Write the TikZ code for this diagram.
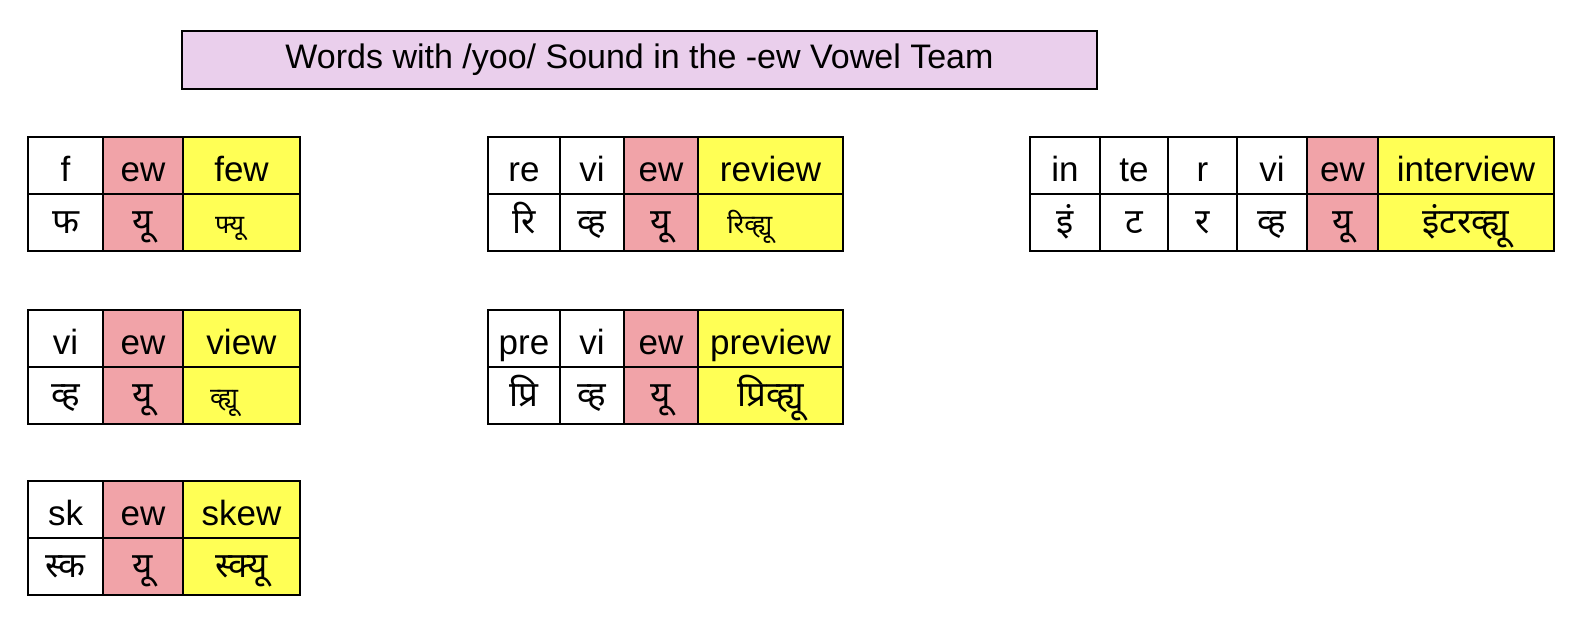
\documentclass[tikz,border=0pt]{standalone}
\usepackage{fontspec}
\setmainfont{Liberation Sans}
\newfontfamily\deva[Script=Devanagari]{Noto Sans}
\usepackage{tikz}
\usetikzlibrary{positioning}
\definecolor{ewpink}{RGB}{241,163,168}
\definecolor{wordyellow}{RGB}{255,255,85}
\definecolor{titlelilac}{RGB}{234,207,236}
\tikzstyle{cell} = [rectangle, draw=black, line width=1.2pt, outer sep=0pt, inner sep=0pt, minimum height=28.5pt, text centered, fill=white]
\tikzstyle{sound} = [cell, fill=ewpink]
\tikzstyle{word} = [cell, fill=wordyellow]
\tikzstyle{latin} = [font=\fontsize{17.5}{21}\selectfont, text height=16pt, text depth=0pt]
\tikzstyle{marathi} = [font=\deva\fontsize{17.5}{21}\selectfont, text height=15pt, text depth=4pt]
\tikzstyle{small} = [font=\deva\fontsize{13}{15}\selectfont, text height=15pt, text depth=4pt, align=left]
\tikzstyle{title} = [rectangle, draw=black, line width=1.2pt, fill=titlelilac, minimum width=457.5pt, minimum height=29pt, font=\fontsize{17}{20}\selectfont]

\begin{document}
\begin{tikzpicture}[x=0.5pt, y=-0.5pt]
	\useasboundingbox (0,0) rectangle (1578,618);

	\node (head) [title] at (639.5,60) {Words with /yoo/ Sound in the -ew Vowel Team};

	% few
	\node (few1) [cell, latin, minimum width=37.5pt, anchor=north west] at (28,137) {f};
	\node (few2) [sound, latin, minimum width=40pt, right=0pt of few1] {ew};
	\node (few3) [word, latin, minimum width=58.5pt, right=0pt of few2] {few};
	\node (fewd1) [cell, marathi, minimum width=37.5pt, below=0pt of few1] {फ};
	\node (fewd2) [sound, marathi, minimum width=40pt, below=0pt of few2] {यू};
	\node (fewd3) [word, small, minimum width=58.5pt, inner xsep=16pt, text width=26.5pt, below=0pt of few3] {फ्यू};

	% view
	\node (view1) [cell, latin, minimum width=37.5pt, anchor=north west] at (28,310) {vi};
	\node (view2) [sound, latin, minimum width=40pt, right=0pt of view1] {ew};
	\node (view3) [word, latin, minimum width=58.5pt, right=0pt of view2] {view};
	\node (viewd1) [cell, marathi, minimum width=37.5pt, below=0pt of view1] {व्ह};
	\node (viewd2) [sound, marathi, minimum width=40pt, below=0pt of view2] {यू};
	\node (viewd3) [word, small, minimum width=58.5pt, inner xsep=13.5pt, text width=31.5pt, below=0pt of view3] {व्ह्यू};

	% skew
	\node (skew1) [cell, latin, minimum width=37.5pt, anchor=north west] at (28,481) {sk};
	\node (skew2) [sound, latin, minimum width=40pt, right=0pt of skew1] {ew};
	\node (skew3) [word, latin, minimum width=58.5pt, right=0pt of skew2] {skew};
	\node (skewd1) [cell, marathi, minimum width=37.5pt, below=0pt of skew1] {स्क};
	\node (skewd2) [sound, marathi, minimum width=40pt, below=0pt of skew2] {यू};
	\node (skewd3) [word, marathi, minimum width=58.5pt, below=0pt of skew3] {स्क्यू};

	% review
	\node (review1) [cell, latin, minimum width=36pt, anchor=north west] at (488,137) {re};
	\node (review2) [cell, latin, minimum width=32pt, right=0pt of review1] {vi};
	\node (review3) [sound, latin, minimum width=37pt, right=0pt of review2] {ew};
	\node (review4) [word, latin, minimum width=72.5pt, right=0pt of review3] {review};
	\node (reviewd1) [cell, marathi, minimum width=36pt, below=0pt of review1] {रि};
	\node (reviewd2) [cell, marathi, minimum width=32pt, below=0pt of review2] {व्ह};
	\node (reviewd3) [sound, marathi, minimum width=37pt, below=0pt of review3] {यू};
	\node (reviewd4) [word, small, minimum width=72.5pt, inner xsep=14.5pt, text width=43.5pt, below=0pt of review4] {रिव्ह्यू};

	% preview
	\node (preview1) [cell, latin, minimum width=36pt, anchor=north west] at (488,310) {pre};
	\node (preview2) [cell, latin, minimum width=32pt, right=0pt of preview1] {vi};
	\node (preview3) [sound, latin, minimum width=37pt, right=0pt of preview2] {ew};
	\node (preview4) [word, latin, minimum width=72.5pt, right=0pt of preview3] {preview};
	\node (previewd1) [cell, marathi, minimum width=36pt, below=0pt of preview1] {प्रि};
	\node (previewd2) [cell, marathi, minimum width=32pt, below=0pt of preview2] {व्ह};
	\node (previewd3) [sound, marathi, minimum width=37pt, below=0pt of preview3] {यू};
	\node (previewd4) [word, marathi, minimum width=72.5pt, below=0pt of preview4] {प्रिव्ह्यू};

	% interview
	\node (inter1) [cell, latin, minimum width=35pt, anchor=north west] at (1030,137) {in};
	\node (inter2) [cell, latin, minimum width=34pt, right=0pt of inter1] {te};
	\node (inter3) [cell, latin, minimum width=34.5pt, right=0pt of inter2] {r};
	\node (inter4) [cell, latin, minimum width=35pt, right=0pt of inter3] {vi};
	\node (inter5) [sound, latin, minimum width=35.5pt, right=0pt of inter4] {ew};
	\node (inter6) [word, latin, minimum width=88pt, right=0pt of inter5] {interview};
	\node (interd1) [cell, marathi, minimum width=35pt, below=0pt of inter1] {इं};
	\node (interd2) [cell, marathi, minimum width=34pt, below=0pt of inter2] {ट};
	\node (interd3) [cell, marathi, minimum width=34.5pt, below=0pt of inter3] {र};
	\node (interd4) [cell, marathi, minimum width=35pt, below=0pt of inter4] {व्ह};
	\node (interd5) [sound, marathi, minimum width=35.5pt, below=0pt of inter5] {यू};
	\node (interd6) [word, marathi, minimum width=88pt, below=0pt of inter6] {इंटरव्ह्यू};
\end{tikzpicture}
\end{document}
